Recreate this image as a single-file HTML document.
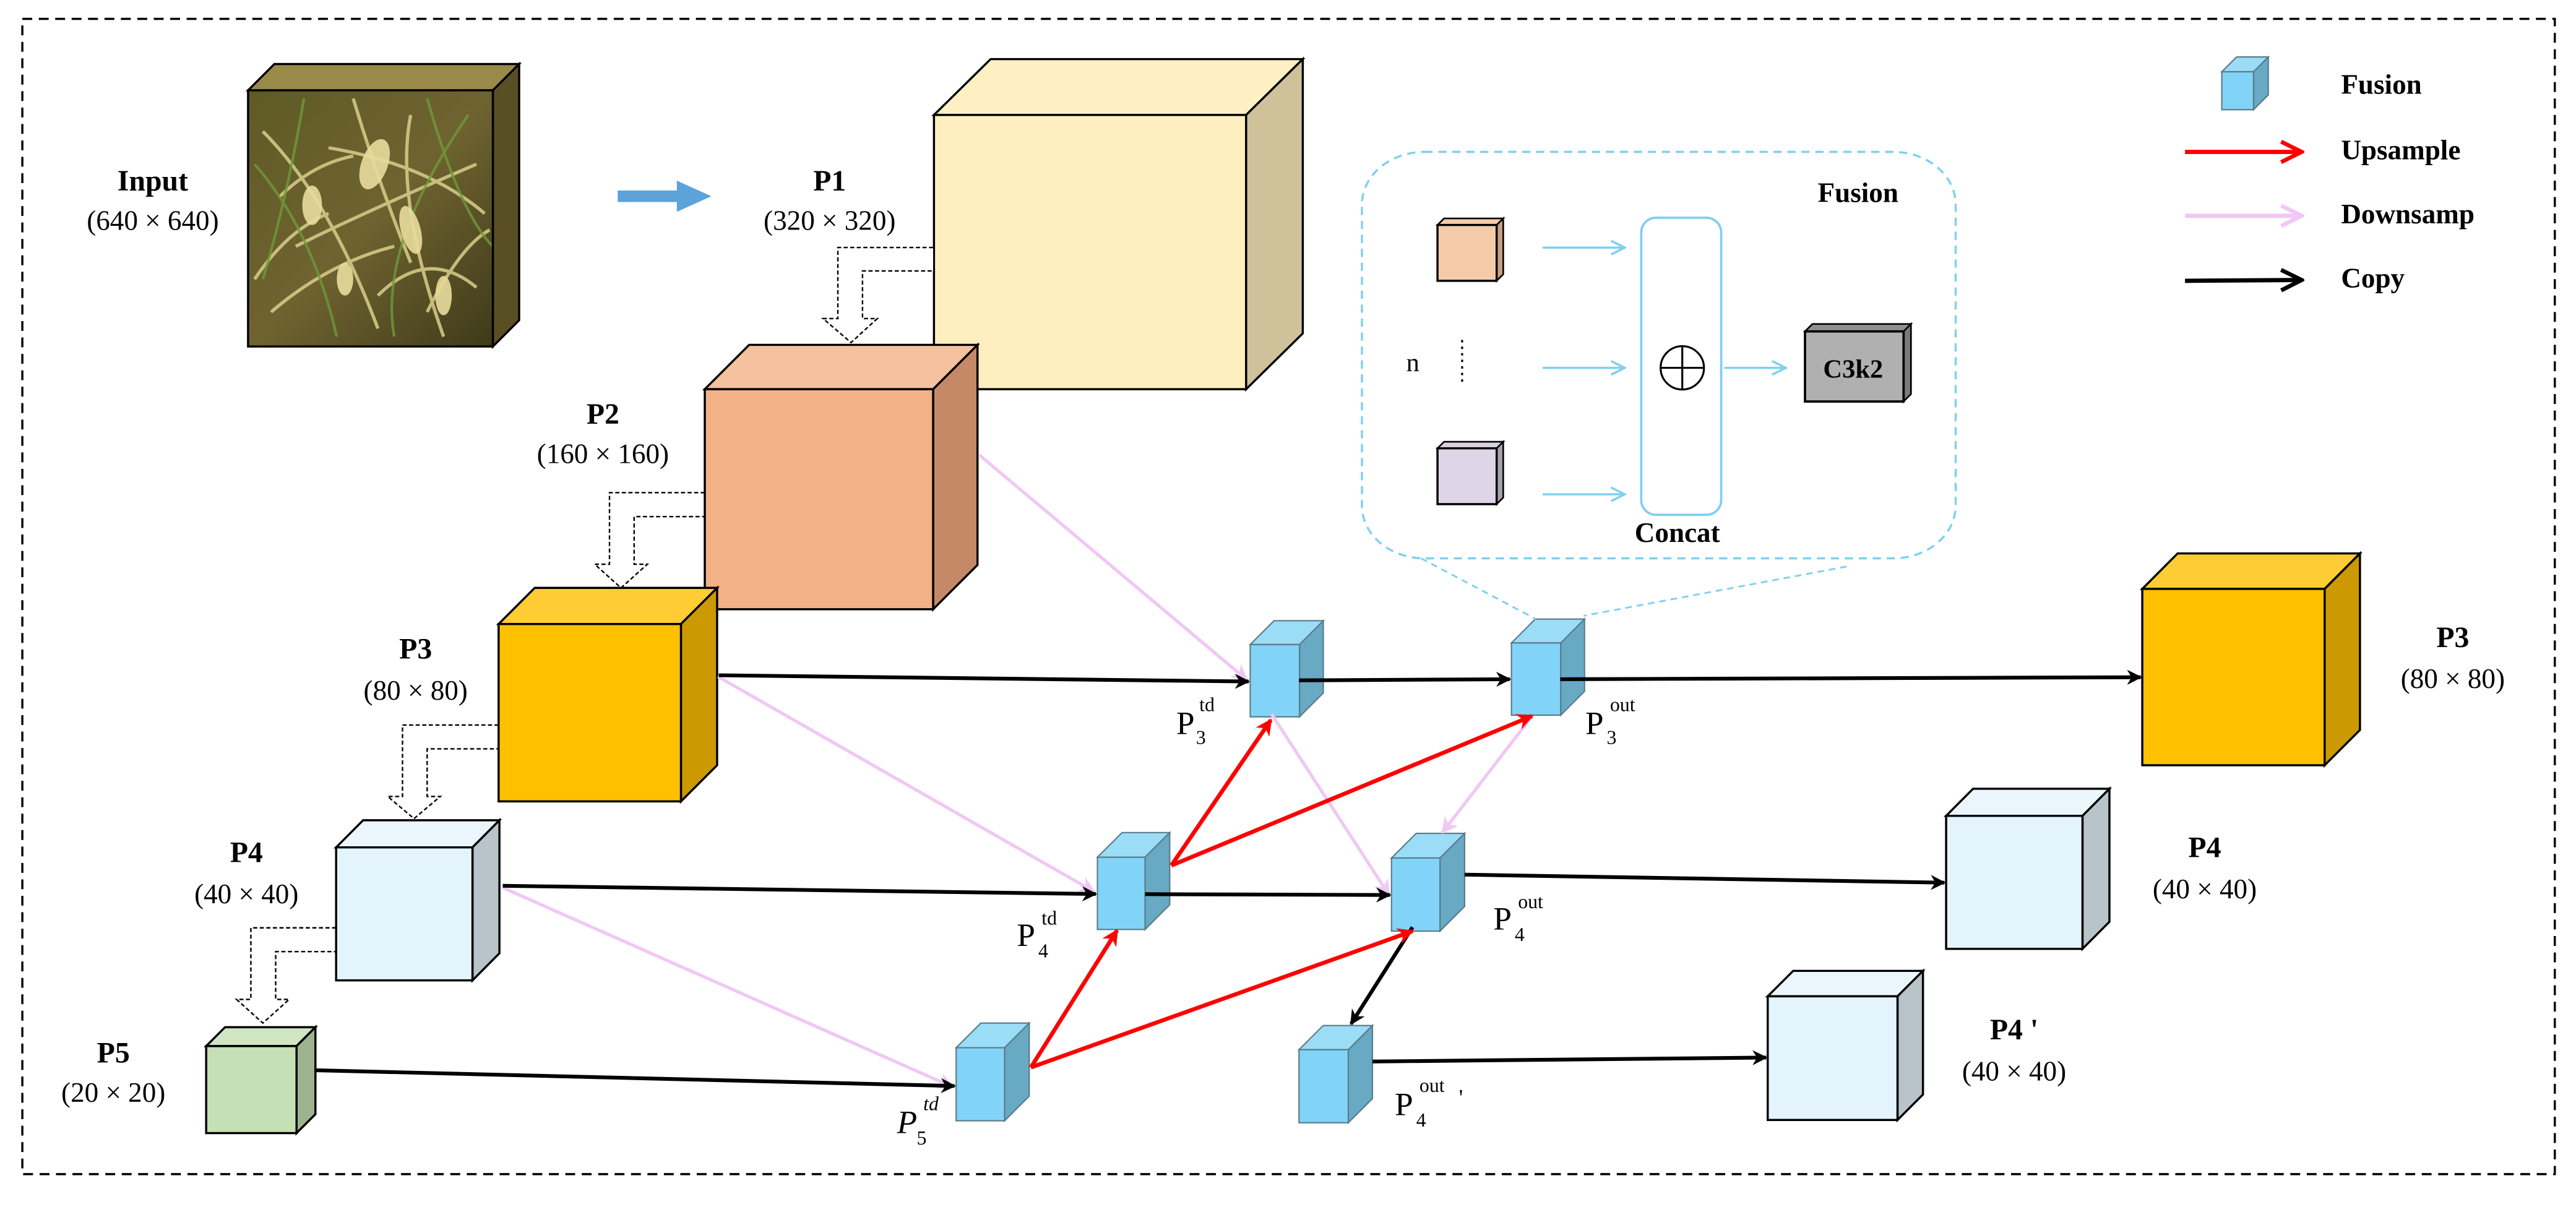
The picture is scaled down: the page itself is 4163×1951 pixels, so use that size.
<!DOCTYPE html>
<html><head><meta charset="utf-8"><style>
html,body{margin:0;padding:0;background:#fff;}
svg{display:block;}
text{font-family:"Liberation Serif",serif;fill:#000;}
.b{font-weight:bold;}
</style></head><body>
<svg width="4163" height="1951" viewBox="0 0 1568 735" preserveAspectRatio="none" xmlns="http://www.w3.org/2000/svg">
<defs>
<marker id="mk" viewBox="0 0 10 10" refX="9" refY="5" markerWidth="4" markerHeight="4" orient="auto" markerUnits="strokeWidth"><path d="M0,0 L10,5 L0,10 L3,5 z" fill="#000"/></marker>
<marker id="mr" viewBox="0 0 10 10" refX="9" refY="5" markerWidth="4" markerHeight="4" orient="auto" markerUnits="strokeWidth"><path d="M0,0 L10,5 L0,10 L3,5 z" fill="#f00"/></marker>
<marker id="mp" viewBox="0 0 10 10" refX="9" refY="5" markerWidth="5" markerHeight="5" orient="auto" markerUnits="strokeWidth"><path d="M0,0 L10,5 L0,10 L3,5 z" fill="#f0c8f4"/></marker>
<marker id="mo" viewBox="0 0 10 10" refX="9" refY="5" markerWidth="6" markerHeight="6" orient="auto" markerUnits="strokeWidth"><path d="M1,1 L9,5 L1,9" fill="none" stroke="#000" stroke-width="1.6"/></marker>
<marker id="mor" viewBox="0 0 10 10" refX="9" refY="5" markerWidth="6" markerHeight="6" orient="auto" markerUnits="strokeWidth"><path d="M1,1 L9,5 L1,9" fill="none" stroke="#f00" stroke-width="1.6"/></marker>
<marker id="mop" viewBox="0 0 10 10" refX="9" refY="5" markerWidth="6" markerHeight="6" orient="auto" markerUnits="strokeWidth"><path d="M1,1 L9,5 L1,9" fill="none" stroke="#f0c8f4" stroke-width="1.6"/></marker>
<marker id="mb" viewBox="0 0 10 10" refX="9" refY="5" markerWidth="8" markerHeight="8" orient="auto" markerUnits="strokeWidth"><path d="M1,1 L9,5 L1,9" fill="none" stroke="#7fd0f0" stroke-width="1.3"/></marker>
<linearGradient id="wheat" x1="0" y1="0" x2="1" y2="1"><stop offset="0" stop-color="#5e5a26"/><stop offset="0.5" stop-color="#6f6330"/><stop offset="1" stop-color="#3e3a1a"/></linearGradient>
</defs>

<rect x="13.6" y="11.5" width="1541.5" height="703.5" fill="none" stroke="#000" stroke-width="1.3" stroke-dasharray="6,4"/>

<!-- Input cube -->
<polygon points="151,55 167,39 316,39 300,55" fill="#9a8a4a" stroke="#000" stroke-width="1.3"/>
<polygon points="300,55 316,39 316,195 300,211" fill="#5a4f24" stroke="#000" stroke-width="1.3"/>
<rect x="151" y="55" width="149" height="156" fill="url(#wheat)"/>
<g stroke="#d9cf8a" stroke-width="2" fill="none" opacity="0.85">
<path d="M160,80 Q200,120 230,200"/><path d="M215,60 Q230,110 250,160"/><path d="M180,150 Q220,130 290,100"/>
<path d="M250,70 Q240,120 270,205"/><path d="M165,190 Q200,160 240,150"/><path d="M200,90 Q260,100 295,130"/>
<path d="M230,180 Q260,150 290,175"/><path d="M170,120 Q190,100 215,95"/><path d="M155,170 Q175,140 200,130"/><path d="M260,190 Q280,150 298,140"/>
</g>
<g stroke="#6f9a3a" stroke-width="1.6" fill="none" opacity="0.8">
<path d="M155,100 Q190,140 205,205"/><path d="M260,60 Q280,130 300,150"/><path d="M185,60 Q175,120 160,170"/><path d="M240,205 Q230,150 285,70"/>
</g>
<g fill="#e8dc9c" opacity="0.9">
<ellipse cx="228" cy="100" rx="8" ry="16" transform="rotate(20 228 100)"/><ellipse cx="250" cy="140" rx="6" ry="15" transform="rotate(-15 250 140)"/>
<ellipse cx="190" cy="125" rx="6" ry="12"/><ellipse cx="270" cy="180" rx="5" ry="12"/><ellipse cx="210" cy="170" rx="5" ry="10"/>
</g>
<rect x="151" y="55" width="149" height="156" fill="none" stroke="#000" stroke-width="1.3"/>

<text x="93" y="116" class="b" font-size="18" text-anchor="middle">Input</text>
<text x="93" y="140" font-size="17" text-anchor="middle">(640 × 640)</text>

<polygon points="376,116 412,116 412,110 433,119.5 412,129 412,123 376,123" fill="#5ba3d9"/>

<text x="505" y="116" class="b" font-size="18" text-anchor="middle">P1</text>
<text x="505" y="140" font-size="17" text-anchor="middle">(320 × 320)</text>

<polygon points="568.5,70 603,36 793,36 758.5,70" fill="#fff0c4" stroke="#000" stroke-width="1.3"/>
<polygon points="758.5,70 793,36 793,203 758.5,237" fill="#cfc29b" stroke="#000" stroke-width="1.3"/>
<rect x="568.5" y="70" width="190" height="167" fill="#ffefc0" stroke="#000" stroke-width="1.3"/>

<g fill="#fff" stroke="#000" stroke-width="0.9" stroke-dasharray="2.5,1.5">
<path d="M568,150.7 L510,150.7 L510,194 L501,194 L518,208.6 L534,194 L525,194 L525,165 L568,165"/>
<path d="M429,300 L371,300 L371,343.6 L362,343.6 L378,358 L394,343.6 L386,343.6 L386,314.6 L429,314.6"/>
<path d="M303.5,441.5 L245,441.5 L245,485 L236,485 L252,498.5 L268,485 L260,485 L260,456 L303.5,456"/>
<path d="M204.6,565 L152.7,565 L152.7,608.6 L144,608.6 L160,623 L176,608.6 L167.8,608.6 L167.8,579.5 L204.6,579.5"/>
</g>

<text x="367" y="258" class="b" font-size="18" text-anchor="middle">P2</text>
<text x="367" y="282" font-size="17" text-anchor="middle">(160 × 160)</text>

<polygon points="429,237 456,210 595,210 568,237" fill="#f5c19f" stroke="#000" stroke-width="1.3"/>
<polygon points="568,237 595,210 595,344 568,371" fill="#c48a68" stroke="#000" stroke-width="1.3"/>
<rect x="429" y="237" width="139" height="134" fill="#f2b186" stroke="#000" stroke-width="1.3"/>

<polygon points="303.5,380 325.5,358 436.5,358 414.5,380" fill="#ffcc33" stroke="#000" stroke-width="1.3"/>
<polygon points="414.5,380 436.5,358 436.5,466 414.5,488" fill="#cc9a00" stroke="#000" stroke-width="1.3"/>
<rect x="303.5" y="380" width="111" height="108" fill="#ffc000" stroke="#000" stroke-width="1.3"/>
<text x="253" y="401" class="b" font-size="18" text-anchor="middle">P3</text>
<text x="253" y="426" font-size="17" text-anchor="middle">(80 × 80)</text>

<polygon points="204.6,516 221,499.5 304,499.5 287.6,516" fill="#eaf6fc" stroke="#000" stroke-width="1.3"/>
<polygon points="287.6,516 304,499.5 304,580.5 287.6,597" fill="#b8c4c9" stroke="#000" stroke-width="1.3"/>
<rect x="204.6" y="516" width="83" height="81" fill="#e3f4fc" stroke="#000" stroke-width="1.3"/>
<text x="150" y="525" class="b" font-size="18" text-anchor="middle">P4</text>
<text x="150" y="550" font-size="17" text-anchor="middle">(40 × 40)</text>

<polygon points="125.5,637 137,625.5 192,625.5 180.5,637" fill="#d0e5c3" stroke="#000" stroke-width="1.3"/>
<polygon points="180.5,637 192,625.5 192,678.5 180.5,690" fill="#9db38f" stroke="#000" stroke-width="1.3"/>
<rect x="125.5" y="637" width="55" height="53" fill="#c5e0b4" stroke="#000" stroke-width="1.3"/>
<text x="69" y="647" class="b" font-size="18" text-anchor="middle">P5</text>
<text x="69" y="671" font-size="17" text-anchor="middle">(20 × 20)</text>

<!-- fusion cubes -->
<g stroke="#5a7a88" stroke-width="0.8">
<polygon points="761,392.5 775.5,378 805.5,378 791,392.5" fill="#9bddf7"/>
<polygon points="791,392.5 805.5,378 805.5,422 791,436.5" fill="#68a9c4"/>
<rect x="761" y="392.5" width="30" height="44" fill="#81d4f7"/>
<polygon points="920,391.5 934.5,377 964.5,377 950,391.5" fill="#9bddf7"/>
<polygon points="950,391.5 964.5,377 964.5,421 950,435.5" fill="#68a9c4"/>
<rect x="920" y="391.5" width="30" height="44" fill="#81d4f7"/>
<polygon points="668,522 683,507 712,507 697,522" fill="#9bddf7"/>
<polygon points="697,522 712,507 712,551 697,566" fill="#68a9c4"/>
<rect x="668" y="522" width="29" height="44" fill="#81d4f7"/>
<polygon points="847,522.5 862,507.5 891.5,507.5 876.5,522.5" fill="#9bddf7"/>
<polygon points="876.5,522.5 891.5,507.5 891.5,552 876.5,567" fill="#68a9c4"/>
<rect x="847" y="522.5" width="29.5" height="44.5" fill="#81d4f7"/>
<polygon points="582,638 597,623 626.5,623 611.5,638" fill="#9bddf7"/>
<polygon points="611.5,638 626.5,623 626.5,667.5 611.5,682.5" fill="#68a9c4"/>
<rect x="582" y="638" width="29.5" height="44.5" fill="#81d4f7"/>
<polygon points="790.7,639.2 805.4,624.5 835.4,624.5 820.7,639.2" fill="#9bddf7"/>
<polygon points="820.7,639.2 835.4,624.5 835.4,669 820.7,683.7" fill="#68a9c4"/>
<rect x="790.7" y="639.2" width="30" height="44.5" fill="#81d4f7"/>
<polygon points="1352.4,43.7 1361.4,34.7 1380.7,34.7 1371.7,43.7" fill="#9bddf7"/>
<polygon points="1371.7,43.7 1380.7,34.7 1380.7,57.8 1371.7,66.8" fill="#68a9c4"/>
<rect x="1352.4" y="43.7" width="19.3" height="23.1" fill="#81d4f7"/>
</g>

<!-- pink -->
<g stroke="#f0c8f4" stroke-width="2" fill="none">
<line x1="596" y1="277" x2="759" y2="414" marker-end="url(#mp)"/>
<line x1="437" y1="412" x2="666" y2="543" marker-end="url(#mp)"/>
<line x1="306" y1="540.5" x2="580" y2="662" marker-end="url(#mp)"/>
<line x1="774" y1="434.8" x2="845.5" y2="545" marker-end="url(#mp)"/>
<line x1="932.6" y1="436" x2="878" y2="507" marker-end="url(#mp)"/>
</g>

<!-- black -->
<g stroke="#000" stroke-width="2.3" fill="none">
<line x1="437.5" y1="411.2" x2="760" y2="415" marker-end="url(#mk)"/>
<line x1="306" y1="539.4" x2="667" y2="544.4" marker-end="url(#mk)"/>
<line x1="191.5" y1="651.7" x2="581" y2="661.3" marker-end="url(#mk)"/>
<line x1="790.7" y1="414.3" x2="919" y2="413.6" marker-end="url(#mk)"/>
<line x1="949.7" y1="413.6" x2="1303" y2="412.4" marker-end="url(#mk)"/>
<line x1="697" y1="544.5" x2="846" y2="545" marker-end="url(#mk)"/>
<line x1="891.5" y1="532.6" x2="1183.5" y2="537.5" marker-end="url(#mk)"/>
<line x1="859.8" y1="564.6" x2="822.4" y2="623.5" marker-end="url(#mk)"/>
<line x1="835.4" y1="646.4" x2="1075" y2="644" marker-end="url(#mk)"/>
</g>

<!-- red -->
<g stroke="#f00" stroke-width="2.5" fill="none">
<line x1="627.5" y1="650" x2="680" y2="566.5" marker-end="url(#mr)"/>
<line x1="713" y1="527" x2="773.6" y2="438.4" marker-end="url(#mr)"/>
<line x1="713" y1="527" x2="932.6" y2="436" marker-end="url(#mr)"/>
<line x1="627.5" y1="650" x2="859.8" y2="567" marker-end="url(#mr)"/>
</g>

<g font-size="20">
<text x="716" y="447">P</text><text x="730" y="433" font-size="12">td</text><text x="728" y="453" font-size="12">3</text>
<text x="619" y="576">P</text><text x="634" y="563" font-size="12">td</text><text x="632" y="583" font-size="12">4</text>
<text x="546" y="690" font-style="italic">P</text><text x="562" y="676" font-size="12" font-style="italic">td</text><text x="558" y="697" font-size="12">5</text>
<text x="965" y="447">P</text><text x="980" y="433" font-size="12">out</text><text x="978" y="453" font-size="12">3</text>
<text x="909" y="566">P</text><text x="924" y="553" font-size="12">out</text><text x="922" y="573" font-size="12">4</text>
<text x="849" y="679">P</text><text x="864" y="665" font-size="12">out</text><text x="862" y="686" font-size="12">4</text><text x="888" y="673" font-size="14">'</text>
</g>

<polygon points="1304,358.6 1325.5,337 1436.5,337 1415,358.6" fill="#ffcc33" stroke="#000" stroke-width="1.3"/>
<polygon points="1415,358.6 1436.5,337 1436.5,444.5 1415,466" fill="#cc9a00" stroke="#000" stroke-width="1.3"/>
<rect x="1304" y="358.6" width="111" height="107.4" fill="#ffc000" stroke="#000" stroke-width="1.3"/>
<text x="1493" y="394" class="b" font-size="18" text-anchor="middle">P3</text>
<text x="1493" y="419" font-size="17" text-anchor="middle">(80 × 80)</text>

<polygon points="1184.6,496.8 1201,480.3 1284,480.3 1267.6,496.8" fill="#eaf6fc" stroke="#000" stroke-width="1.3"/>
<polygon points="1267.6,496.8 1284,480.3 1284,561.3 1267.6,577.8" fill="#b8c4c9" stroke="#000" stroke-width="1.3"/>
<rect x="1184.6" y="496.8" width="83" height="81" fill="#e3f4fc" stroke="#000" stroke-width="1.3"/>
<text x="1342" y="522" class="b" font-size="18" text-anchor="middle">P4</text>
<text x="1342" y="547" font-size="17" text-anchor="middle">(40 × 40)</text>

<polygon points="1076,606.7 1091.5,591.2 1170.5,591.2 1155,606.7" fill="#eaf6fc" stroke="#000" stroke-width="1.3"/>
<polygon points="1155,606.7 1170.5,591.2 1170.5,666.5 1155,682" fill="#b8c4c9" stroke="#000" stroke-width="1.3"/>
<rect x="1076" y="606.7" width="79" height="75.3" fill="#e3f4fc" stroke="#000" stroke-width="1.3"/>
<text x="1226" y="633" class="b" font-size="18" text-anchor="middle">P4 '</text>
<text x="1226" y="658" font-size="17" text-anchor="middle">(40 × 40)</text>

<rect x="829" y="92.5" width="361.4" height="247.5" rx="38" ry="32" fill="none" stroke="#7fd0f0" stroke-width="1.3" stroke-dasharray="5,3.5"/>
<line x1="865" y1="340" x2="935" y2="377" stroke="#7fd0f0" stroke-width="1.1" stroke-dasharray="4,3"/>
<line x1="1124" y1="345" x2="964" y2="375" stroke="#7fd0f0" stroke-width="1.1" stroke-dasharray="4,3"/>
<text x="1131" y="123" class="b" font-size="17" text-anchor="middle">Fusion</text>

<polygon points="875,137 879,133 915,133 911,137" fill="#f5cbaa" stroke="#000" stroke-width="1"/>
<polygon points="911,137 915,133 915,167 911,171" fill="#c99f80" stroke="#000" stroke-width="1"/>
<rect x="875" y="137" width="36" height="34" fill="#f5cbaa" stroke="#000" stroke-width="1.3"/>
<polygon points="875,273 879,269 915,269 911,273" fill="#d8cfe0" stroke="#000" stroke-width="1"/>
<polygon points="911,273 915,269 915,303 911,307" fill="#a89fb0" stroke="#000" stroke-width="1"/>
<rect x="875" y="273" width="36" height="34" fill="#e0d5e8" stroke="#000" stroke-width="1.3"/>

<text x="860" y="226" font-size="16" text-anchor="middle">n</text>
<line x1="890" y1="207" x2="890" y2="233" stroke="#000" stroke-width="1.2" stroke-dasharray="1.5,2.5"/>

<g stroke="#7fd0f0" stroke-width="1.3" fill="none">
<line x1="939" y1="150.8" x2="989" y2="150.8" marker-end="url(#mb)"/>
<line x1="939" y1="224" x2="989" y2="224" marker-end="url(#mb)"/>
<line x1="939" y1="301" x2="989" y2="301" marker-end="url(#mb)"/>
<line x1="1049.6" y1="224" x2="1087" y2="224" marker-end="url(#mb)"/>
</g>
<rect x="999" y="132.6" width="48.7" height="180.9" rx="9" fill="none" stroke="#7fd0f0" stroke-width="1.4"/>
<circle cx="1024" cy="224" r="13.2" fill="#fff" stroke="#000" stroke-width="1.2"/>
<line x1="1010.8" y1="224" x2="1037.2" y2="224" stroke="#000" stroke-width="1.2"/>
<line x1="1024" y1="210.8" x2="1024" y2="237.2" stroke="#000" stroke-width="1.2"/>
<text x="1021" y="330" class="b" font-size="17" text-anchor="middle">Concat</text>

<polygon points="1098.7,201.8 1103.2,197.3 1163.2,197.3 1158.7,201.8" fill="#909090" stroke="#000" stroke-width="1"/>
<polygon points="1158.7,201.8 1163.2,197.3 1163.2,240 1158.7,244.5" fill="#7a7a7a" stroke="#000" stroke-width="1"/>
<rect x="1098.7" y="201.8" width="60" height="42.7" fill="#b0b0b0" stroke="#000" stroke-width="1.4"/>
<text x="1128" y="230" class="b" font-size="16" text-anchor="middle">C3k2</text>

<text x="1425" y="57" class="b" font-size="17">Fusion</text>
<line x1="1330" y1="92.5" x2="1401" y2="92.5" stroke="#f00" stroke-width="2.6" marker-end="url(#mor)"/>
<text x="1425" y="97" class="b" font-size="17">Upsample</text>
<line x1="1330" y1="131.4" x2="1401" y2="131.4" stroke="#f0c8f4" stroke-width="2.6" marker-end="url(#mop)"/>
<text x="1425" y="136" class="b" font-size="17">Downsamp</text>
<line x1="1330" y1="171" x2="1401" y2="170.5" stroke="#000" stroke-width="2.6" marker-end="url(#mo)"/>
<text x="1425" y="175" class="b" font-size="17">Copy</text>
</svg>
</body></html>
